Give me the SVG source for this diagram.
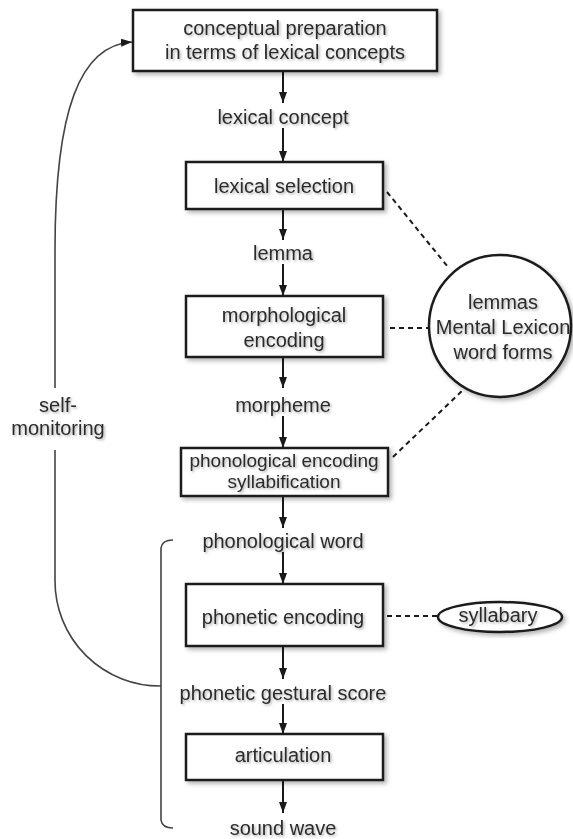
<svg xmlns="http://www.w3.org/2000/svg" width="573" height="839" viewBox="0 0 573 839">
<defs>
<style>
.box{fill:#fff;stroke:#1a1a1a;stroke-width:2.5;filter:url(#sh)}
.t{font-family:"Liberation Sans",Arial,sans-serif;font-size:20px;fill:#2b2b2b;text-anchor:middle;filter:url(#tsh)}
.s19{font-size:19px}
.ar{stroke:#1a1a1a;stroke-width:2;fill:none;marker-end:url(#ah)}
.dash{stroke:#1a1a1a;stroke-width:2;fill:none;stroke-dasharray:5 4}
.sm{stroke:#444;stroke-width:1.6;fill:none}
</style>
<filter id="sh" x="-20%" y="-20%" width="140%" height="140%"><feDropShadow dx="2.5" dy="2.5" stdDeviation="2" flood-color="#000" flood-opacity="0.3"/></filter>
<filter id="tsh" x="-20%" y="-30%" width="140%" height="160%"><feDropShadow dx="1.5" dy="1.5" stdDeviation="1.2" flood-color="#000" flood-opacity="0.3"/></filter>
<marker id="ah" viewBox="0 0 11 8" refX="11" refY="4" markerWidth="11" markerHeight="8" markerUnits="userSpaceOnUse" orient="auto"><path d="M0,0 L11,4 L0,8 Z" fill="#1a1a1a"/></marker>
</defs>
<rect width="573" height="839" fill="#fff"/>
<g id="connectors">
<line class="ar" x1="283" y1="71" x2="283" y2="103"/>
<line class="ar" x1="283" y1="128" x2="283" y2="162"/>
<line class="ar" x1="283" y1="209" x2="283" y2="240"/>
<line class="ar" x1="283" y1="264" x2="283" y2="296"/>
<line class="ar" x1="283" y1="357" x2="283" y2="388"/>
<line class="ar" x1="283" y1="416" x2="283" y2="448"/>
<line class="ar" x1="283" y1="496" x2="283" y2="528"/>
<line class="ar" x1="283" y1="552" x2="283" y2="584"/>
<line class="ar" x1="283" y1="646" x2="283" y2="679"/>
<line class="ar" x1="283" y1="704" x2="283" y2="734"/>
<line class="ar" x1="283" y1="780" x2="283" y2="813"/>
<line class="dash" x1="387" y1="192" x2="448" y2="267"/>
<line class="dash" x1="390" y1="328" x2="430" y2="328"/>
<line class="dash" x1="393" y1="457" x2="463" y2="390"/>
<line class="dash" x1="387" y1="616" x2="438" y2="616"/>
<path class="sm" d="M173,540 Q162,540 161,548 L161,820 Q162,828 173,828"/>
<path class="sm" d="M161,686 A105 105 0 0 1 55,581 L55,450"/>
<path class="sm" d="M55,388 L55,250 C55,110 80,45 132,42" marker-end="url(#ah)"/>
</g>
<g id="n1"><rect class="box" x="133" y="10" width="304" height="61"/><text class="t" x="285" y="35">conceptual preparation</text><text class="t" x="285" y="59">in terms of lexical concepts</text></g>
<g id="l1"><text class="t" x="283" y="124">lexical concept</text></g>
<g id="n2"><rect class="box" x="186" y="162" width="197" height="47"/><text class="t" x="284" y="193">lexical selection</text></g>
<g id="l2"><text class="t" x="283" y="260">lemma</text></g>
<g id="n3"><rect class="box" x="186" y="296" width="197" height="61"/><text class="t" x="284" y="322">morphological</text><text class="t" x="284" y="347">encoding</text></g>
<g id="l3"><text class="t" x="283" y="412">morpheme</text></g>
<g id="n4"><rect class="box" x="181" y="448" width="207" height="48"/><text class="t s19" x="284" y="467">phonological encoding</text><text class="t s19" x="284" y="488">syllabification</text></g>
<g id="l4"><text class="t" x="283" y="548">phonological word</text></g>
<g id="n5"><rect class="box" x="186" y="584" width="197" height="62"/><text class="t" x="283" y="624">phonetic encoding</text></g>
<g id="l5"><text class="t" x="283" y="700">phonetic gestural score</text></g>
<g id="n6"><rect class="box" x="186" y="734" width="197" height="46"/><text class="t" x="283" y="762">articulation</text></g>
<g id="l6"><text class="t" x="283" y="835">sound wave</text></g>
<g id="lex"><circle class="box" cx="500" cy="326" r="71"/><text class="t" x="503" y="309">lemmas</text><text class="t" x="503" y="334">Mental Lexicon</text><text class="t" x="503" y="359">word forms</text></g>
<g id="syl"><ellipse class="box" cx="500" cy="617" rx="62" ry="15"/><text class="t" x="498" y="622">syllabary</text></g>
<g id="selfmon"><text class="t" x="58" y="412">self-</text><text class="t" x="58" y="435">monitoring</text></g>
</svg>
